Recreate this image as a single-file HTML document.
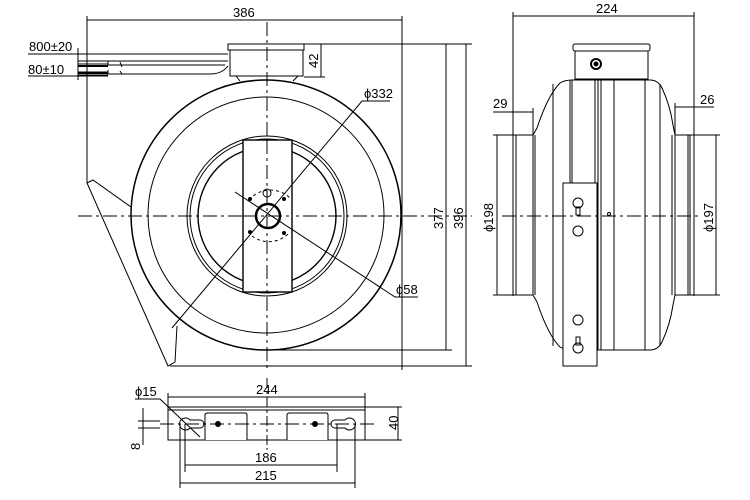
<!DOCTYPE html>
<html><head><meta charset="utf-8"><style>
html,body{margin:0;padding:0;background:#fff;width:750px;height:500px;overflow:hidden}
svg{display:block}
text{font-family:"Liberation Sans",sans-serif;font-size:13px;fill:#000;stroke:none;font-weight:normal}
</style></head><body>
<svg width="750" height="500" viewBox="0 0 750 500" fill="none" stroke="#000" stroke-width="1">
<!-- LEFT VIEW -->
<g>
<line x1="78" y1="216" x2="472" y2="216" stroke-dasharray="14,4,3,4"/>
<line x1="267" y1="22" x2="267" y2="372" stroke-dasharray="14,4,3,4"/>
<circle cx="266" cy="215" r="135" stroke-width="1.5"/>
<circle cx="266" cy="215" r="118"/>
<circle cx="267" cy="216" r="80"/>
<circle cx="267" cy="216" r="77"/>
<circle cx="267" cy="216" r="69" stroke-width="1.4"/>
<rect x="243" y="140" width="49" height="152" fill="#fff" stroke-width="1.4"/>
<line x1="267" y1="140" x2="267" y2="292" stroke-dasharray="14,4,3,4"/>
<line x1="243" y1="216" x2="292" y2="216" stroke-dasharray="14,4,3,4"/>
<circle cx="268" cy="216" r="12" stroke-width="2.5"/>
<path d="M249 200 A28 28 0 0 1 290 198" stroke-dasharray="3,3"/>
<path d="M252 236 A28 28 0 0 0 290 232" stroke-dasharray="3,3"/>
<circle cx="267" cy="193" r="4"/>
<circle cx="250" cy="199" r="1.5" fill="#000"/><circle cx="284" cy="199" r="1.5" fill="#000"/>
<circle cx="250" cy="232" r="1.5" fill="#000"/><circle cx="284" cy="233" r="1.5" fill="#000"/>
<path d="M87 183 L93 180 L131 207"/>
<path d="M87 183 L168 366 L175 362 L177 326"/>
<rect x="228" y="44" width="76" height="6"/>
<path d="M230 50 L230 76 L303 76 L303 50"/>
<path d="M236 76 L240 81 M298 76 L293 81"/>
<line x1="78" y1="54" x2="228" y2="54"/>
<path d="M78 61 L228 61 M78 64 L108 64 M78 72 L108 72 M78 75 L108 75"/>
<path d="M108 61 L108 65 L225 65 M108 70 L108 74 L210 74 Q222 74 228 66"/>
<line x1="78" y1="66" x2="108" y2="66" stroke-width="2"/>
<line x1="78" y1="73" x2="108" y2="73" stroke-width="2"/>
<path d="M120 62 L122 67 M120 71 L122 74"/>
<line x1="28" y1="54" x2="78" y2="54"/>
<line x1="28" y1="76" x2="108" y2="76"/>
<line x1="78" y1="48" x2="78" y2="80"/>
<text x="29" y="51">800±20</text>
<text x="28" y="74">80±10</text>
<line x1="87" y1="16" x2="87" y2="183"/>
<line x1="402" y1="16" x2="402" y2="370"/>
<line x1="87" y1="20" x2="402" y2="20"/>
<text x="233" y="17">386</text>
<line x1="304" y1="44" x2="472" y2="44"/>
<line x1="304" y1="77" x2="325" y2="77"/>
<line x1="321" y1="44" x2="321" y2="77"/>
<text transform="translate(318,68) rotate(-90)">42</text>
<line x1="267" y1="350" x2="452" y2="350"/>
<line x1="170" y1="366" x2="472" y2="366"/>
<line x1="446" y1="44" x2="446" y2="350"/>
<line x1="466" y1="44" x2="466" y2="366"/>
<text transform="translate(443,229) rotate(-90)">377</text>
<text transform="translate(463,229) rotate(-90)">396</text>
<path d="M172 328 L362 101 L390 101"/>
<text x="364" y="98">ϕ332</text>
<path d="M235 192 L395 297 L418 297"/>
<text x="396" y="294">ϕ58</text>
</g>
<!-- RIGHT VIEW -->
<g>
<line x1="502" y1="216" x2="702" y2="216" stroke-dasharray="14,4,3,4"/>
<line x1="513" y1="12" x2="513" y2="296"/>
<line x1="694" y1="12" x2="694" y2="296"/>
<line x1="513" y1="16" x2="694" y2="16"/>
<text x="596" y="13">224</text>
<rect x="513" y="135" width="20" height="160"/>
<line x1="516" y1="135" x2="516" y2="295"/>
<rect x="675" y="135" width="19" height="160"/>
<line x1="688" y1="135" x2="688" y2="295"/>
<line x1="690" y1="135" x2="690" y2="295"/>
<line x1="493" y1="135" x2="513" y2="135"/>
<line x1="493" y1="295" x2="513" y2="295"/>
<line x1="694" y1="135" x2="720" y2="135"/>
<line x1="694" y1="295" x2="720" y2="295"/>
<path d="M533 135 L537 128 Q548 95 560 83 Q565 80 572 80 L650 80 Q658 80 662 88 Q670 105 673 125 L675 135"/>
<path d="M533 295 L537 302 Q548 335 560 347 Q565 350 572 350 L650 350 Q658 350 662 342 Q670 325 673 305 L675 295"/>
<line x1="535" y1="135" x2="535" y2="295"/>
<line x1="672" y1="135" x2="672" y2="295"/>
<line x1="553" y1="84" x2="553" y2="346"/>
<line x1="570" y1="80" x2="570" y2="183"/>
<line x1="572" y1="80" x2="572" y2="183"/>
<line x1="595" y1="80" x2="595" y2="350"/>
<line x1="598" y1="80" x2="598" y2="350"/>
<line x1="601" y1="80" x2="601" y2="350"/>
<line x1="614" y1="80" x2="614" y2="350"/>
<line x1="645" y1="80" x2="645" y2="350"/>
<line x1="660" y1="84" x2="660" y2="346"/>
<circle cx="609" cy="214" r="1.5"/>
<rect x="573" y="44" width="77" height="7" rx="2"/>
<path d="M575 51 L575 79 L648 79 L648 51"/>
<circle cx="596" cy="64" r="5" stroke-width="2"/><circle cx="596" cy="64" r="2" fill="#000"/>
<rect x="563" y="183" width="34" height="183" fill="#fff"/>
<circle cx="578" cy="203" r="5"/><rect x="576" y="207" width="4" height="8"/>
<circle cx="578" cy="231" r="5"/>
<circle cx="578" cy="320" r="5"/>
<circle cx="578" cy="348" r="5"/><rect x="576" y="337" width="4" height="8"/>
<line x1="502" y1="216" x2="702" y2="216" stroke-dasharray="14,4,3,4"/>
<line x1="493" y1="112" x2="533" y2="112"/>
<line x1="533" y1="108" x2="533" y2="135"/>
<text x="493" y="108">29</text>
<line x1="675" y1="107" x2="714" y2="107"/>
<line x1="675" y1="103" x2="675" y2="135"/>
<text x="700" y="104">26</text>
<line x1="497" y1="135" x2="497" y2="295"/>
<text transform="translate(493,232) rotate(-90)">ϕ198</text>
<line x1="716" y1="135" x2="716" y2="295"/>
<text transform="translate(713,232) rotate(-90)">ϕ197</text>
</g>
<!-- BOTTOM VIEW -->
<g>
<rect x="168" y="407" width="197" height="33"/>
<line x1="168" y1="410" x2="365" y2="410"/>
<path d="M205 440 L205 415 Q205 413 208 413 L245 413 Q247 413 247 415 L247 440" fill="#fff"/>
<path d="M287 440 L287 415 Q287 413 290 413 L326 413 Q328 413 328 415 L328 440" fill="#fff"/>
<line x1="267" y1="378" x2="267" y2="450" stroke-dasharray="10,3,3,3"/>
<line x1="160" y1="424" x2="375" y2="424" stroke-dasharray="14,4,3,4"/>
<circle cx="218" cy="424" r="2.5" fill="#000"/><circle cx="315" cy="424" r="2.5" fill="#000"/>
<path d="M190 420 A6 6 0 1 0 190 428 L200 428 A4 4 0 0 0 200 420 Z"/>
<path d="M345 420 A6 6 0 1 1 345 428 L335 428 A4 4 0 0 1 335 420 Z"/>
<line x1="168" y1="397" x2="365" y2="397"/>
<line x1="168" y1="393" x2="168" y2="407"/>
<line x1="365" y1="393" x2="365" y2="407"/>
<text x="256" y="394">244</text>
<line x1="365" y1="407" x2="402" y2="407"/>
<line x1="365" y1="440" x2="402" y2="440"/>
<line x1="398" y1="407" x2="398" y2="440"/>
<text transform="translate(398,430) rotate(-90)">40</text>
<line x1="185" y1="424" x2="185" y2="472"/>
<line x1="337" y1="424" x2="337" y2="472"/>
<line x1="185" y1="465" x2="337" y2="465"/>
<text x="255" y="462">186</text>
<line x1="180" y1="424" x2="180" y2="488"/>
<line x1="355" y1="424" x2="355" y2="488"/>
<line x1="180" y1="483" x2="355" y2="483"/>
<text x="255" y="480">215</text>
<path d="M135 399 L160 399 L200 437"/>
<text x="135" y="396">ϕ15</text>
<line x1="138" y1="421" x2="160" y2="421"/>
<line x1="138" y1="428" x2="160" y2="428"/>
<line x1="143" y1="408" x2="143" y2="445"/>
<text transform="translate(140,450) rotate(-90)">8</text>
</g>
</svg>
</body></html>
